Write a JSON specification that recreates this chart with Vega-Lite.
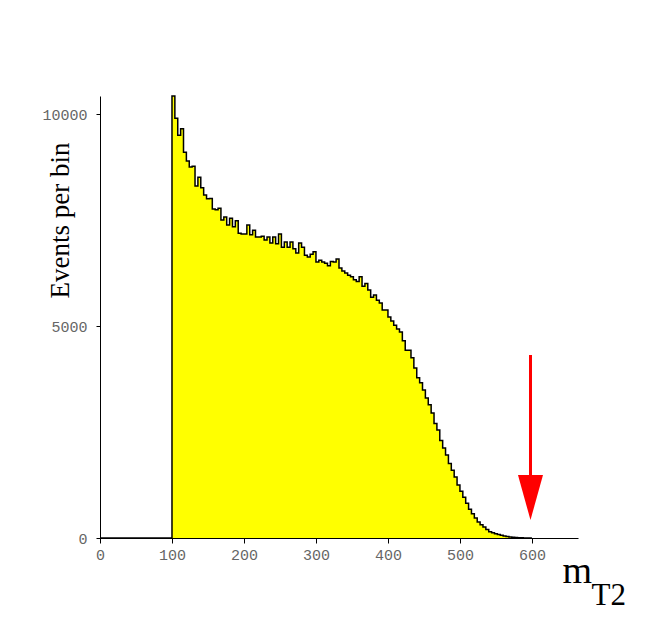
{
  "$schema": "https://vega.github.io/schema/vega-lite/v6.json",
  "width": 478,
  "height": 442,
  "autosize": {"type": "none"},
  "padding": {"left": 100, "top": 96, "right": 86, "bottom": 95},
  "background": "white",
  "config": {"view": {"stroke": null}},
  "datasets": {
    "hist": [
      {"x": 0, "n": 0},
      {"x": 100, "n": 10425}, {"x": 104, "n": 9900}, {"x": 108, "n": 9500}, {"x": 112, "n": 9650},
      {"x": 116, "n": 9100}, {"x": 120, "n": 8890}, {"x": 124, "n": 8750}, {"x": 128, "n": 8770},
      {"x": 132, "n": 8300}, {"x": 136, "n": 8510}, {"x": 140, "n": 8260}, {"x": 144, "n": 8090},
      {"x": 148, "n": 8000}, {"x": 152, "n": 8010}, {"x": 156, "n": 7760}, {"x": 160, "n": 7740},
      {"x": 164, "n": 7780}, {"x": 168, "n": 7500}, {"x": 172, "n": 7570}, {"x": 176, "n": 7380},
      {"x": 180, "n": 7540}, {"x": 184, "n": 7340}, {"x": 188, "n": 7480}, {"x": 192, "n": 7190},
      {"x": 196, "n": 7170}, {"x": 200, "n": 7170}, {"x": 204, "n": 7380}, {"x": 208, "n": 7150},
      {"x": 212, "n": 7260}, {"x": 216, "n": 7100}, {"x": 220, "n": 7100}, {"x": 224, "n": 7120},
      {"x": 228, "n": 7030}, {"x": 232, "n": 7100}, {"x": 236, "n": 6960}, {"x": 240, "n": 7100},
      {"x": 244, "n": 6940}, {"x": 248, "n": 7170}, {"x": 252, "n": 6860}, {"x": 256, "n": 6980},
      {"x": 260, "n": 6860}, {"x": 264, "n": 6980}, {"x": 268, "n": 6820}, {"x": 272, "n": 6720},
      {"x": 276, "n": 6960}, {"x": 280, "n": 6860}, {"x": 284, "n": 6670}, {"x": 288, "n": 6630},
      {"x": 292, "n": 6690}, {"x": 296, "n": 6750}, {"x": 300, "n": 6510}, {"x": 304, "n": 6550},
      {"x": 308, "n": 6510}, {"x": 312, "n": 6480}, {"x": 316, "n": 6420}, {"x": 320, "n": 6520},
      {"x": 324, "n": 6510}, {"x": 328, "n": 6580}, {"x": 332, "n": 6370}, {"x": 336, "n": 6300},
      {"x": 340, "n": 6250}, {"x": 344, "n": 6200}, {"x": 348, "n": 6160}, {"x": 352, "n": 6090},
      {"x": 356, "n": 6050}, {"x": 360, "n": 6160}, {"x": 364, "n": 5940}, {"x": 368, "n": 6000},
      {"x": 372, "n": 5850}, {"x": 376, "n": 5680}, {"x": 380, "n": 5730}, {"x": 384, "n": 5610},
      {"x": 388, "n": 5540}, {"x": 392, "n": 5380}, {"x": 396, "n": 5380}, {"x": 400, "n": 5210},
      {"x": 404, "n": 5120}, {"x": 408, "n": 5020}, {"x": 412, "n": 4930}, {"x": 416, "n": 4860},
      {"x": 420, "n": 4650}, {"x": 424, "n": 4430}, {"x": 428, "n": 4430}, {"x": 432, "n": 4250},
      {"x": 436, "n": 4010}, {"x": 440, "n": 3780}, {"x": 444, "n": 3660}, {"x": 448, "n": 3490},
      {"x": 452, "n": 3300}, {"x": 456, "n": 3140}, {"x": 460, "n": 2950}, {"x": 464, "n": 2700},
      {"x": 468, "n": 2550}, {"x": 472, "n": 2300}, {"x": 476, "n": 2120}, {"x": 480, "n": 1960},
      {"x": 484, "n": 1760}, {"x": 488, "n": 1600}, {"x": 492, "n": 1440}, {"x": 496, "n": 1250},
      {"x": 500, "n": 1100}, {"x": 504, "n": 960}, {"x": 508, "n": 820}, {"x": 512, "n": 680},
      {"x": 516, "n": 570}, {"x": 520, "n": 470}, {"x": 524, "n": 380}, {"x": 528, "n": 310},
      {"x": 532, "n": 260}, {"x": 536, "n": 200}, {"x": 540, "n": 150}, {"x": 544, "n": 125},
      {"x": 548, "n": 100}, {"x": 552, "n": 80}, {"x": 556, "n": 65}, {"x": 560, "n": 45},
      {"x": 564, "n": 35}, {"x": 568, "n": 25}, {"x": 572, "n": 15}, {"x": 576, "n": 10},
      {"x": 580, "n": 6}, {"x": 584, "n": 4}, {"x": 588, "n": 2}, {"x": 592, "n": 0},
      {"x": 596, "n": 0}, {"x": 600, "n": 0}
    ],
    "arrow": [
      {"x": 598, "top": 4316, "bottom": 1480, "head": 955}
    ]
  },
  "layer": [
    {
      "data": {"name": "hist"},
      "mark": {
        "type": "area",
        "interpolate": "step-after",
        "color": "#ffff00",
        "opacity": 1,
        "line": {"color": "black", "strokeWidth": 1.5}
      },
      "encoding": {
        "x": {
          "field": "x", "type": "quantitative",
          "scale": {"domain": [0, 664], "nice": false, "zero": false},
          "axis": {
            "orient": "bottom",
            "values": [0, 100, 200, 300, 400, 500, 600],
            "labelFont": "Liberation Mono", "labelFontSize": 15, "labelColor": "#666666",
            "labelPadding": 4, "labelFlush": false, "tickSize": 5, "tickColor": "black", "domainColor": "black",
            "grid": false,
            "title": "m", "titleFont": "Liberation Serif", "titleFontSize": 38,
            "titleFontWeight": "normal", "titleColor": "black",
            "titleX": 462, "titleY": 44, "titleAlign": "left", "titleBaseline": "alphabetic"
          }
        },
        "y": {
          "field": "n", "type": "quantitative",
          "scale": {"domain": [0, 10425], "nice": false},
          "axis": {
            "values": [0, 5000, 10000], "format": "d",
            "labelFont": "Liberation Mono", "labelFontSize": 15, "labelColor": "#666666",
            "labelPadding": 9, "tickSize": 4, "tickColor": "black", "domainColor": "black",
            "grid": false,
            "title": "Events per bin", "titleFont": "Liberation Serif", "titleFontSize": 27,
            "titleFontWeight": "normal", "titleColor": "black", "titleAngle": -90,
            "titleX": -32, "titleY": 124, "titleAlign": "center", "titleBaseline": "alphabetic"
          }
        }
      }
    },
    {
      "data": {"name": "arrow"},
      "mark": {"type": "rule", "color": "#ff0000", "strokeWidth": 3},
      "encoding": {
        "x": {"field": "x", "type": "quantitative",
          "axis": {"orient": "bottom", "domain": false, "ticks": false, "labels": false, "grid": false,
            "title": "T2", "titleFont": "Liberation Serif", "titleFontSize": 31,
            "titleFontWeight": "normal", "titleColor": "black",
            "titleX": 491, "titleY": 66, "titleAlign": "left", "titleBaseline": "alphabetic"}},
        "y": {"field": "top", "type": "quantitative"},
        "y2": {"field": "bottom"}
      }
    },
    {
      "data": {"name": "arrow"},
      "mark": {"type": "point", "shape": "M-0.556,-1L0.556,-1L0,1Z", "size": 2025, "filled": true, "color": "#ff0000", "opacity": 1, "strokeWidth": 0},
      "encoding": {
        "x": {"field": "x", "type": "quantitative", "axis": null},
        "y": {"field": "head", "type": "quantitative"}
      }
    }
  ],
  "resolve": {"axis": {"x": "independent"}}
}
